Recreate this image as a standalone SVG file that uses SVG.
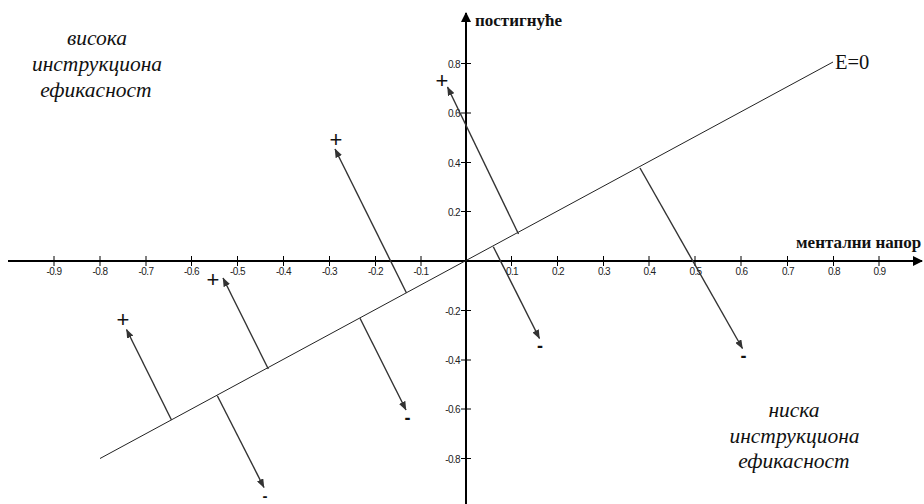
<svg xmlns="http://www.w3.org/2000/svg" width="924" height="504" viewBox="0 0 924 504">
<defs>
<marker id="ah" markerWidth="9" markerHeight="7" refX="8.5" refY="3.5" orient="auto" markerUnits="userSpaceOnUse">
<path d="M0,0 L9,3.5 L0,7 Z" fill="#333"/>
</marker>
<marker id="axh" markerWidth="10" markerHeight="10" refX="9" refY="5" orient="auto" markerUnits="userSpaceOnUse">
<path d="M0,0 L10,5 L0,10 Z" fill="#000"/>
</marker>
<style>
.axis{stroke:#000;stroke-width:2;fill:none}
.tick{stroke:#000;stroke-width:1}
.tl{font-family:"Liberation Sans",Arial,sans-serif;font-size:10px;fill:#222;letter-spacing:-0.6px}
.arr{stroke:#333;stroke-width:1.4;fill:none;marker-end:url(#ah)}
.base{stroke:#222;stroke-width:1;fill:none}
.corner{font-family:"Liberation Serif","Times New Roman",serif;font-style:italic;font-size:21.5px;fill:#111;text-anchor:middle}
.axl{font-family:"Liberation Serif","Times New Roman",serif;font-weight:bold;font-size:17px;fill:#111}
.plus{font-family:"Liberation Sans",Arial,sans-serif;font-size:22px;fill:#111;text-anchor:middle}
.minus{font-family:"Liberation Sans",Arial,sans-serif;font-weight:bold;font-size:18px;fill:#111;text-anchor:middle}
</style>
</defs>
<g id="axes">
<line class="axis" x1="8" y1="261" x2="922" y2="261" marker-end="url(#axh)"/>
<line class="axis" x1="466" y1="504" x2="466" y2="13" marker-end="url(#axh)"/>
<g class="tick">
<line x1="54" y1="256" x2="54" y2="266"/><line x1="100" y1="256" x2="100" y2="266"/>
<line x1="146" y1="256" x2="146" y2="266"/><line x1="191.5" y1="256" x2="191.5" y2="266"/>
<line x1="237.5" y1="256" x2="237.5" y2="266"/><line x1="283.5" y1="256" x2="283.5" y2="266"/>
<line x1="329.5" y1="256" x2="329.5" y2="266"/><line x1="375.5" y1="256" x2="375.5" y2="266"/>
<line x1="421" y1="256" x2="421" y2="266"/>
<line x1="511.5" y1="256" x2="511.5" y2="266"/><line x1="557.5" y1="256" x2="557.5" y2="266"/>
<line x1="603.5" y1="256" x2="603.5" y2="266"/><line x1="649" y1="256" x2="649" y2="266"/>
<line x1="695" y1="256" x2="695" y2="266"/><line x1="741" y1="256" x2="741" y2="266"/>
<line x1="787.5" y1="256" x2="787.5" y2="266"/><line x1="833.5" y1="256" x2="833.5" y2="266"/>
<line x1="879" y1="256" x2="879" y2="266"/>
<line x1="461" y1="63.5" x2="471" y2="63.5"/><line x1="461" y1="113" x2="471" y2="113"/>
<line x1="461" y1="162.5" x2="471" y2="162.5"/><line x1="461" y1="211.5" x2="471" y2="211.5"/>
<line x1="461" y1="310.5" x2="471" y2="310.5"/><line x1="461" y1="360" x2="471" y2="360"/>
<line x1="461" y1="409" x2="471" y2="409"/><line x1="461" y1="458.5" x2="471" y2="458.5"/>
</g>
<g class="tl" text-anchor="middle">
<text x="54" y="275">-0.9</text><text x="100" y="275">-0.8</text><text x="146" y="275">-0.7</text>
<text x="191.5" y="275">-0.6</text><text x="237.5" y="275">-0.5</text><text x="283.5" y="275">-0.4</text>
<text x="329.5" y="275">-0.3</text><text x="375.5" y="275">-0.2</text><text x="421" y="275">-0.1</text>
<text x="512" y="275">0.1</text><text x="558" y="275">0.2</text><text x="604" y="275">0.3</text>
<text x="649.5" y="275">0.4</text><text x="695.5" y="275">0.5</text><text x="741.5" y="275">0.6</text>
<text x="788" y="275">0.7</text><text x="834" y="275">0.8</text><text x="879.5" y="275">0.9</text>
</g>
<g class="tl" text-anchor="end">
<text x="460" y="67.5">0.8</text><text x="460" y="117">0.6</text><text x="460" y="166.5">0.4</text>
<text x="460" y="215.5">0.2</text><text x="460" y="314.5">-0.2</text><text x="460" y="364">-0.4</text>
<text x="460" y="413">-0.6</text><text x="460" y="462.5">-0.8</text>
</g>
<text class="axl" x="475" y="26">постигнуће</text>
<text class="axl" x="796" y="248">ментални напор</text>
</g>
<g id="line-E0">
<line class="base" x1="100" y1="458.5" x2="833" y2="62"/>
<text x="835" y="69" font-family="'Liberation Serif','Times New Roman',serif" font-size="20.5" fill="#111">E=0</text>
</g>
<g id="connectors">
<line class="arr" x1="171.5" y1="420" x2="126.5" y2="329.5"/>
<line class="arr" x1="217.3" y1="395.7" x2="264" y2="487.5"/>
<line class="arr" x1="268.3" y1="369" x2="223" y2="278"/>
<line class="arr" x1="406.5" y1="293" x2="335" y2="149"/>
<line class="arr" x1="360" y1="318.3" x2="406" y2="410"/>
<line class="arr" x1="518.5" y1="234" x2="447.5" y2="87"/>
<line class="arr" x1="493.3" y1="246.7" x2="539.5" y2="338.5"/>
<line class="arr" x1="640" y1="168" x2="742.5" y2="348.5"/>
</g>
<g id="signs">
<text class="plus" x="123" y="326.5">+</text>
<text class="plus" x="213" y="286.5">+</text>
<text class="plus" x="336" y="146.5">+</text>
<text class="plus" x="442" y="87.5">+</text>
<text class="minus" x="265" y="500.7" style="font-size:15px">-</text>
<text class="minus" x="407.5" y="423.5">-</text>
<text class="minus" x="540" y="351.5">-</text>
<text class="minus" x="743.5" y="361.5">-</text>
</g>
<g id="label-high">
<text class="corner" x="97" y="45">висока</text>
<text class="corner" x="97" y="71">инструкциона</text>
<text class="corner" x="96" y="97">ефикасност</text>
</g>
<g id="label-low">
<text class="corner" x="794" y="417">ниска</text>
<text class="corner" x="794.5" y="443">инструкциона</text>
<text class="corner" x="794" y="468">ефикасност</text>
</g>
</svg>
